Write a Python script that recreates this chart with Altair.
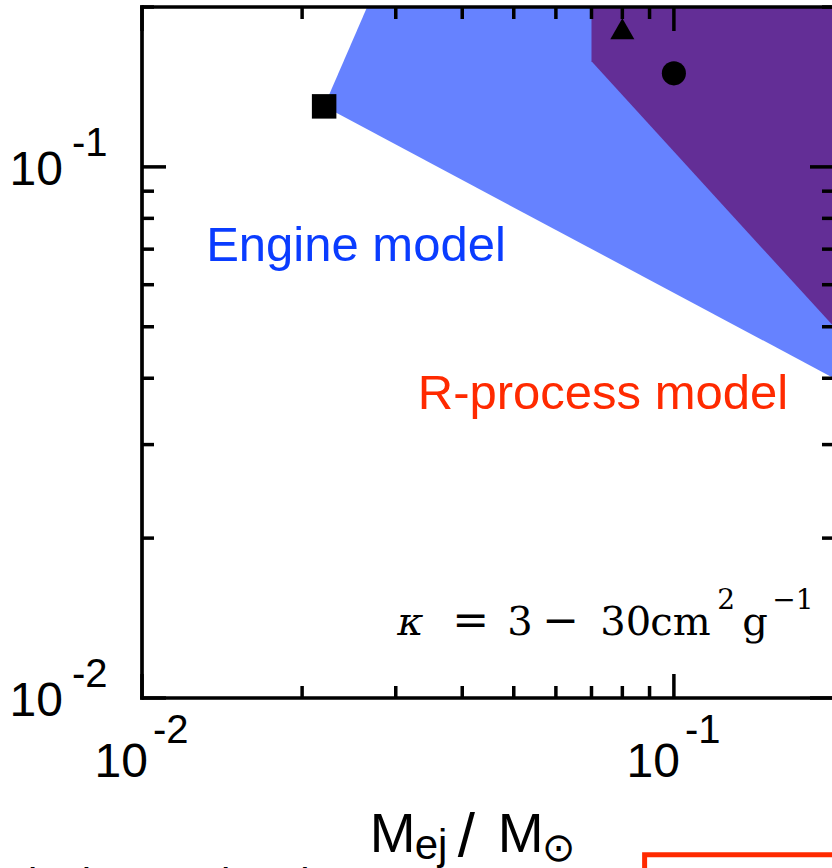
import altair as alt
import pandas as pd

# ---------------- data ----------------
engine_x = [0.022, 0.0265, 0.2, 0.2]
engine_y = [0.13, 0.2, 0.2, 0.04]
rproc_x = [0.07, 0.07, 0.2, 0.2]
rproc_y = [0.2, 0.158, 0.05, 0.2]

square_x, square_y = [0.022], [0.13]
triangle_x, triangle_y = [0.08], [0.182]
circle_x, circle_y = [0.1], [0.15]

major_ticks = [0.01, 0.1]
minor_ticks = [0.02, 0.03, 0.04, 0.05, 0.06, 0.07, 0.08, 0.09, 0.2]
label_values = [0.01, 0.1]
label_bases = ["10", "10"]
label_exps = ["-2", "-1"]

X_MIN, X_MAX = 0.01, 0.2
Y_MIN, Y_MAX = 0.01, 0.2

xscale = alt.Scale(type="log", domain=[X_MIN, X_MAX], range=[0, 692], nice=False)
yscale = alt.Scale(type="log", domain=[Y_MIN, Y_MAX], nice=False)


def pos(xf="x", yf="y"):
    return dict(x=alt.X(f"{xf}:Q", scale=xscale, axis=None),
                y=alt.Y(f"{yf}:Q", scale=yscale, axis=None))


layers = []

# regions
eng_df = pd.DataFrame({"x": engine_x, "y": engine_y, "o": list(range(len(engine_x)))})
rp_df = pd.DataFrame({"x": rproc_x, "y": rproc_y, "o": list(range(len(rproc_x)))})
layers.append(alt.Chart(eng_df).mark_line(filled=True, fill="#6682FF", strokeWidth=0)
              .encode(**pos(), order="o:Q"))
layers.append(alt.Chart(rp_df).mark_line(filled=True, fill="#632E96", strokeWidth=0)
              .encode(**pos(), order="o:Q"))

# points
layers.append(alt.Chart(pd.DataFrame({"x": square_x, "y": square_y}))
              .mark_point(shape="square", filled=True, size=600, color="black", opacity=1).encode(**pos()))
layers.append(alt.Chart(pd.DataFrame({"x": triangle_x, "y": triangle_y}))
              .mark_point(shape="triangle-up", filled=True, size=580, color="black", opacity=1).encode(**pos()))
layers.append(alt.Chart(pd.DataFrame({"x": circle_x, "y": circle_y}))
              .mark_point(shape="circle", filled=True, size=580, color="black", opacity=1).encode(**pos()))

# frame
frame_df = pd.DataFrame({
    "x": [X_MIN, X_MIN, X_MIN, X_MAX],
    "x2": [X_MIN, X_MAX, X_MAX, X_MAX],
    "y": [Y_MIN, Y_MIN, Y_MAX, Y_MIN],
    "y2": [Y_MAX, Y_MIN, Y_MAX, Y_MAX],
})
layers.append(alt.Chart(frame_df).mark_rule(color="black", strokeWidth=3.7, strokeCap="square")
              .encode(**pos(), x2="x2:Q", y2="y2:Q"))

# ticks (inward, on all four sides)
TW = 3.5
for vals, L in [(major_ticks, 24), (minor_ticks, 12)]:
    n = len(vals)
    bottom = pd.DataFrame({"x": vals, "y": [Y_MIN] * n})
    top = pd.DataFrame({"x": vals, "y": [Y_MAX] * n})
    left = pd.DataFrame({"x": [X_MIN] * n, "y": vals})
    right = pd.DataFrame({"x": [X_MAX] * n, "y": vals})
    layers.append(alt.Chart(bottom).mark_tick(orient="vertical", size=L, thickness=TW, color="black",
                                              opacity=1, yOffset=-L / 2).encode(**pos()))
    layers.append(alt.Chart(top).mark_tick(orient="vertical", size=L, thickness=TW, color="black",
                                           opacity=1, yOffset=L / 2).encode(**pos()))
    layers.append(alt.Chart(left).mark_tick(orient="horizontal", size=L, thickness=TW, color="black",
                                            opacity=1, xOffset=L / 2).encode(**pos()))
    layers.append(alt.Chart(right).mark_tick(orient="horizontal", size=L, thickness=TW, color="black",
                                             opacity=1, xOffset=-L / 2).encode(**pos()))


def txt(df, **kw):
    base = dict(font="Liberation Sans", color="black", align="left", baseline="alphabetic")
    base.update(kw)
    return alt.Chart(df).mark_text(**base).encode(**pos(), text="t:N")


# tick labels
n = len(label_values)
xl_base = pd.DataFrame({"x": label_values, "y": [Y_MIN] * n, "t": label_bases})
xl_exp = pd.DataFrame({"x": label_values, "y": [Y_MIN] * n, "t": label_exps})
yl_base = pd.DataFrame({"x": [X_MIN] * n, "y": label_values, "t": label_bases})
yl_exp = pd.DataFrame({"x": [X_MIN] * n, "y": label_values, "t": label_exps})
layers.append(txt(xl_base, align="right", dx=6, dy=79, fontSize=48))
layers.append(txt(xl_exp, align="left", dx=11, dy=45, fontSize=40))
layers.append(txt(yl_base, align="right", dx=-79, dy=18, fontSize=48))
layers.append(txt(yl_exp, align="left", dx=-70, dy=-11, fontSize=40))

# region labels
layers.append(txt(pd.DataFrame({"x": [0.0132], "y": [0.0665], "t": ["Engine model"]}),
                  fontSize=49, color="#0A3CFF"))
layers.append(txt(pd.DataFrame({"x": [0.033], "y": [0.035], "t": ["R-process model"]}),
                  fontSize=49, color="#FF2A00"))

# opacity annotation
kappa_anchor = pd.DataFrame({"x": [0.0302], "y": [0.01315]})
kappa_parts = [("κ", 0, 0, 40, "italic"), ("=", 55, 0, 44, "normal"), ("3", 110, 0, 40, "normal"),
               ("−", 145, 0, 44, "normal"), ("30", 203, 0, 40, "normal"), ("cm", 253, 0, 40, "normal"),
               ("2", 320, -26, 28, "normal"), ("g", 345, 0, 40, "normal"), ("−1", 375, -26, 28, "normal")]
for t, dx, dy, fs, style in kappa_parts:
    d = kappa_anchor.assign(t=t)
    layers.append(txt(d, font="DejaVu Serif", fontSize=fs, fontStyle=style, dx=dx, dy=dy))

# axis title  M_ej / M_sun  (anchored to the lower-left corner of the frame)
title_anchor = pd.DataFrame({"x": [0.0268], "y": [Y_MIN]})
title_parts = [("M", 0, 154, 55, "Liberation Sans"), ("ej", 45, 161, 42, "Liberation Sans"),
               ("/", 88, 158, 62, "Liberation Sans"), ("M", 128, 154, 55, "Liberation Sans"),
               ("⊙", 172, 163, 40, "DejaVu Sans")]
for t, dx, dy, fs, font in title_parts:
    layers.append(txt(title_anchor.assign(t=t), font=font, fontSize=fs, dx=dx, dy=dy))

# citation (cut off at the bottom)
layers.append(txt(pd.DataFrame({"x": [X_MIN], "y": [Y_MIN], "t": ["Kisaka & Takami 15"]}),
                  fontSize=42, dx=-142, dy=200))

# red box (cut off)
box_df = pd.DataFrame({"x": [0.0881], "x2": [0.4], "y": [0.00507], "y2": [0.002]})
layers.append(alt.Chart(box_df).mark_rect(fill=None, stroke="#FF2A00", strokeWidth=5)
              .encode(**pos(), x2="x2:Q", y2="y2:Q"))

chart = (alt.layer(*layers)
         .properties(width=690, height=691,
                     padding={"left": 142, "top": 7, "right": 0, "bottom": 170},
                     autosize=alt.AutoSizeParams(type="none"),
                     background="white")
         .configure_view(stroke=None))

chart.save("out.html", embed_options={"renderer": "svg", "actions": False})
